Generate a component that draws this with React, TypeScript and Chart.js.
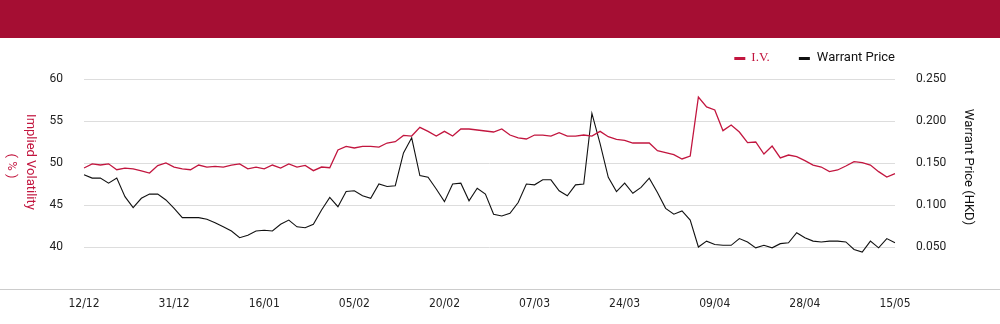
import React, { useEffect, useRef } from 'react';
import { Chart, registerables } from 'chart.js';

Chart.register(...registerables);

const dates = [
  '12/12', '13/12', '16/12', '17/12', '18/12', '19/12', '20/12', '23/12', '24/12', '27/12', '30/12', '31/12',
  '02/01', '03/01', '06/01', '07/01', '08/01', '09/01', '10/01', '13/01', '14/01', '15/01', '16/01',
  '17/01', '20/01', '21/01', '22/01', '23/01', '24/01', '27/01', '28/01',
  '03/02', '04/02', '05/02', '06/02', '07/02', '10/02', '11/02', '12/02', '13/02', '14/02', '17/02', '18/02', '19/02', '20/02',
  '21/02', '24/02', '25/02', '26/02', '27/02', '28/02',
  '03/03', '04/03', '05/03', '06/03', '07/03', '10/03', '11/03', '12/03', '13/03', '14/03', '17/03', '18/03', '19/03', '20/03', '21/03', '24/03',
  '25/03', '26/03', '27/03', '28/03', '31/03',
  '01/04', '02/04', '03/04', '07/04', '08/04', '09/04', '10/04', '11/04', '14/04', '15/04', '16/04', '17/04', '22/04', '23/04', '24/04', '25/04', '28/04',
  '29/04', '30/04',
  '02/05', '06/05', '07/05', '08/05', '09/05', '12/05', '13/05', '14/05', '15/05',
];

const ivValues = [
  49.4, 49.9, 49.76, 49.9, 49.2, 49.4, 49.3, 49.05, 48.8, 49.7, 50.0, 49.5, 49.3, 49.2, 49.76, 49.5, 49.6, 49.5, 49.76, 49.9,
  49.3, 49.5, 49.3, 49.76, 49.4, 49.9,
  49.52, 49.72, 49.09, 49.52, 49.44, 51.55, 51.98, 51.79, 51.98, 51.98, 51.9, 52.38, 52.54, 53.29, 53.21, 54.25, 53.77, 53.21,
  53.77, 53.21, 54.05, 54.05, 53.93, 53.81, 53.69,
  54.05, 53.33, 52.98, 52.86, 53.33, 53.33, 53.21, 53.61, 53.21, 53.21, 53.33, 53.21, 53.77, 53.13, 52.82, 52.7, 52.38, 52.38,
  52.38, 51.47, 51.23, 50.99, 50.48, 50.83,
  57.86, 56.67, 56.31, 53.85, 54.52, 53.69, 52.42, 52.5, 51.07, 52.02, 50.6, 50.95, 50.75, 50.28, 49.76, 49.52, 48.97, 49.17,
  49.64, 50.16, 50.04, 49.76, 48.97, 48.33, 48.73,
];

const warrantPrices = [
  0.136, 0.132, 0.132, 0.126, 0.132, 0.110, 0.097, 0.108, 0.113, 0.113, 0.106, 0.096, 0.085, 0.085, 0.085, 0.083, 0.079, 0.074,
  0.069, 0.061, 0.064, 0.069, 0.070, 0.069, 0.077, 0.082,
  0.074, 0.073, 0.077, 0.094, 0.109, 0.098, 0.116, 0.117, 0.111, 0.108, 0.125, 0.122, 0.123, 0.162, 0.180, 0.135, 0.133, 0.119,
  0.104, 0.125, 0.126, 0.105, 0.120, 0.113, 0.089,
  0.087, 0.090, 0.103, 0.125, 0.124, 0.130, 0.130, 0.117, 0.111, 0.124, 0.125, 0.209, 0.173, 0.133, 0.116, 0.126, 0.114, 0.121,
  0.132, 0.115, 0.096, 0.089, 0.093, 0.082,
  0.050, 0.057, 0.053, 0.052, 0.052, 0.060, 0.056, 0.049, 0.052, 0.049, 0.054, 0.055, 0.067, 0.061, 0.057, 0.056, 0.057, 0.057,
  0.056, 0.047, 0.044, 0.057, 0.049, 0.060, 0.055,
];

const seriesNames = ['I.V.', 'Warrant Price'];
const leftTitle = ['Implied Volatility', '( % )'];
const rightTitle = 'Warrant Price (HKD)';
const labelStep = 11;

const HEADER_COLOR = '#a50e33';
const IV_COLOR = '#c2163f';
const PRICE_COLOR = '#111111';
const TEXT_COLOR = '#222222';
const GRID_COLOR = '#dddddd';
const SANS = 'Roboto, "Liberation Sans", Arial, sans-serif';

export default function App() {
  const canvasRef = useRef<HTMLCanvasElement | null>(null);

  useEffect(() => {
    document.body.style.margin = '0';
    const canvas = canvasRef.current;
    if (!canvas) return;

    const decor = {
      id: 'decor',
      beforeDraw(chart: any) {
        const { ctx, width, chartArea } = chart;
        ctx.save();
        ctx.fillStyle = HEADER_COLOR;
        ctx.fillRect(0, 0, width, 38);
        ctx.strokeStyle = '#cccccc';
        ctx.lineWidth = 1;
        ctx.beginPath();
        const y = Math.round(chartArea.bottom) + 0.5;
        ctx.moveTo(0, y);
        ctx.lineTo(width, y);
        ctx.stroke();
        ctx.restore();
      },
      afterDraw(chart: any) {
        const { ctx, chartArea } = chart;
        const ds = chart.data.datasets;
        ctx.save();
        // legend (right aligned to plot area)
        const cy = 58;
        ctx.textBaseline = 'middle';
        ctx.textAlign = 'left';
        ctx.font = '13px ' + SANS;
        const w2 = ctx.measureText(ds[1].label).width;
        const t2x = chartArea.right - w2;
        ctx.fillStyle = PRICE_COLOR;
        ctx.fillText(ds[1].label, t2x, cy);
        const b2x = t2x - 7 - 11;
        ctx.fillStyle = ds[1].borderColor;
        ctx.fillRect(b2x, cy - 1, 11, 3);
        ctx.font = '13px "Liberation Serif", serif';
        const w1 = ctx.measureText(ds[0].label).width;
        const t1x = b2x - 29 - w1;
        ctx.fillStyle = ds[0].borderColor;
        ctx.fillText(ds[0].label, t1x, cy);
        ctx.fillRect(t1x - 6 - 11, cy - 1, 11, 3);

        // left axis title (reads top to bottom)
        ctx.font = '13px ' + SANS;
        ctx.fillStyle = IV_COLOR;
        ctx.textAlign = 'center';
        ctx.save();
        ctx.translate(30, 162);
        ctx.rotate(Math.PI / 2);
        ctx.fillText(leftTitle[0], 0, 0);
        ctx.restore();
        ctx.save();
        ctx.translate(11, 166);
        ctx.rotate(Math.PI / 2);
        ctx.fillText(leftTitle[1], 0, 0);
        ctx.restore();

        // right axis title
        ctx.fillStyle = PRICE_COLOR;
        ctx.save();
        ctx.translate(968, 167);
        ctx.rotate(Math.PI / 2);
        ctx.fillText(rightTitle, 0, 0);
        ctx.restore();
        ctx.restore();
      },
    };

    const chart = new Chart(canvas, {
      type: 'line',
      data: {
        labels: dates,
        datasets: [
          {
            label: seriesNames[0],
            data: ivValues,
            yAxisID: 'yIV',
            borderColor: IV_COLOR,
            backgroundColor: IV_COLOR,
            borderWidth: 1.3,
            pointRadius: 0,
            tension: 0,
            fill: false,
          },
          {
            label: seriesNames[1],
            data: warrantPrices,
            yAxisID: 'yPrice',
            borderColor: PRICE_COLOR,
            backgroundColor: PRICE_COLOR,
            borderWidth: 1.1,
            pointRadius: 0,
            tension: 0,
            fill: false,
          },
        ],
      },
      options: {
        responsive: false,
        animation: false,
        events: [],
        layout: { padding: { top: 79, left: 0, right: 0, bottom: 0 } },
        plugins: {
          legend: { display: false },
          tooltip: { enabled: false },
          title: { display: false },
        },
        scales: {
          x: {
            type: 'category',
            offset: false,
            grid: { display: false, drawTicks: false },
            border: { display: false },
            afterFit: (scale: any) => {
              scale.height = 35;
            },
            ticks: {
              autoSkip: false,
              maxRotation: 0,
              minRotation: 0,
              padding: 8,
              color: TEXT_COLOR,
              font: { family: '"Liberation Sans Narrow", "DejaVu Sans Condensed", "Open Sans", sans-serif', size: 12 },
              callback: (_v: any, i: number) => (i % labelStep === 0 ? dates[i] : ''),
            },
          },
          yIV: {
            type: 'linear',
            position: 'left',
            min: 35,
            max: 60,
            afterFit: (scale: any) => {
              scale.width = 84;
            },
            grid: {
              drawTicks: false,
              color: (c: any) => (c.tick && c.tick.value === 35 ? 'rgba(0,0,0,0)' : GRID_COLOR),
              lineWidth: 1,
            },
            border: { display: false },
            ticks: {
              stepSize: 5,
              padding: 21,
              color: TEXT_COLOR,
              font: { family: SANS, size: 12 },
              callback: (v: any) => (v === 35 ? '' : String(v)),
            },
          },
          yPrice: {
            type: 'linear',
            position: 'right',
            min: 0,
            max: 0.25,
            afterFit: (scale: any) => {
              scale.width = 105;
            },
            grid: { display: false, drawTicks: false },
            border: { display: false },
            ticks: {
              stepSize: 0.05,
              padding: 21,
              color: TEXT_COLOR,
              font: { family: SANS, size: 12 },
              callback: (v: any) => (Math.abs(Number(v)) < 1e-9 ? '' : Number(v).toFixed(3)),
            },
          },
        },
      },
      plugins: [decor],
    });

    return () => {
      chart.destroy();
    };
  }, []);

  return (
    <div style={{ width: 1000, height: 324, background: '#ffffff' }}>
      <canvas ref={canvasRef} width={1000} height={324} style={{ display: 'block' }} />
    </div>
  );
}
